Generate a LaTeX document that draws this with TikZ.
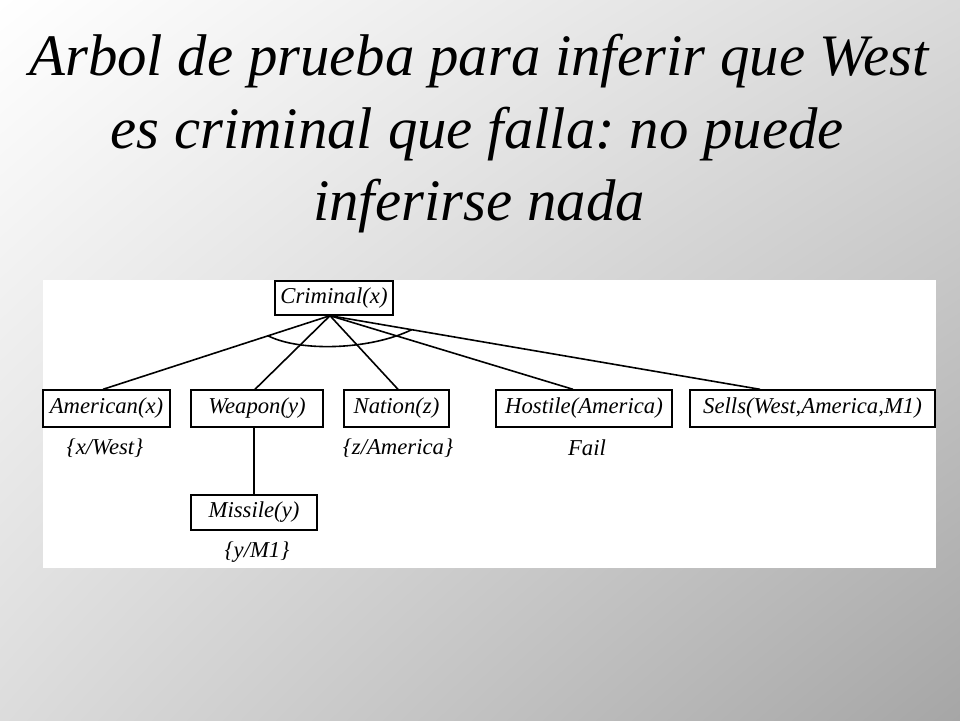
\documentclass[tikz,border=0pt]{standalone}
\usepackage{fontspec}
\setmainfont{Liberation Serif}
\usetikzlibrary{calc,shadings}
\definecolor{bgtr}{RGB}{218,218,218}
\definecolor{bgbl}{RGB}{220,220,220}
\definecolor{bgbr}{RGB}{166,166,166}
\frenchspacing
\begin{document}
\begin{tikzpicture}[x=1pt,y=-1pt,
  title/.style={font=\fontsize{58.8}{72}\selectfont\itshape, anchor=base, inner sep=0pt},
  pbox/.style={draw, line width=1.4pt, inner sep=0pt, minimum height=37pt,
    font=\fontsize{22.7}{26}\selectfont\itshape},
  lbl/.style={inner sep=0pt, font=\fontsize{22.7}{26}\selectfont\itshape},
  edge/.style={line width=1.6pt}]
\useasboundingbox (0,0) rectangle (960,720);
\shade[upper left=white, upper right=bgtr, lower left=bgbl, lower right=bgbr] (0,0) rectangle (960,720);
\fill[white] (43,280) rectangle (936,568);

\node[title] (t1) at (479,75) {Arbol de prueba para inferir que West};
\node[title] (t2) at (477,148) {es criminal que falla: no puede};
\node[title] (t3) at (479,220) {inferirse nada};

\node[pbox, minimum width=118pt, minimum height=34pt] (crim) at (334,298) {Criminal(x)};
\node[pbox, minimum width=127pt] (amer) at (106.5,408.5) {American(x)};
\node[pbox, minimum width=132pt] (weap) at (257,408.5) {Weapon(y)};
\node[pbox, minimum width=105pt] (nat) at (396.5,408.5) {Nation(z)};
\node[pbox, minimum width=176pt] (host) at (584,408.5) {Hostile(America)};
\node[pbox, minimum width=245pt] (sell) at (812.5,408.5) {Sells(West,America,M1)};
\node[pbox, minimum width=126pt, minimum height=35pt] (miss) at (254,512.5) {Missile(y)};

\node[lbl] (l1) at (105,448) {\{x/West\}};
\node[lbl] (l2) at (398,448) {\{z/America\}};
\node[lbl] (l3) at (587,448) {Fail};
\node[lbl] (l4) at (257,552) {\{y/M1\}};

\coordinate (cb) at ([xshift=-4pt]crim.south);
\coordinate (at) at ([xshift=-3.5pt]amer.north);
\coordinate (wt) at ([xshift=-2pt]weap.north);
\coordinate (nt) at ([xshift=1.5pt]nat.north);
\coordinate (ht) at ([xshift=-11pt]host.north);
\coordinate (st) at ([xshift=-52.5pt]sell.north);
\coordinate (wb) at ([xshift=-3pt]weap.south);
\coordinate (mt) at (wb |- miss.north);

\draw[edge] (cb) -- (at);
\draw[edge] (cb) -- (wt);
\draw[edge] (cb) -- (nt);
\draw[edge] (cb) -- (ht);
\draw[edge] (cb) -- (st);
\draw[edge] (wb) -- (mt);
\draw[edge] ($(cb)!0.273!(at)$) .. controls (300,352) and (370,350) .. ($(cb)!0.19!(st)$);
\end{tikzpicture}
\end{document}
